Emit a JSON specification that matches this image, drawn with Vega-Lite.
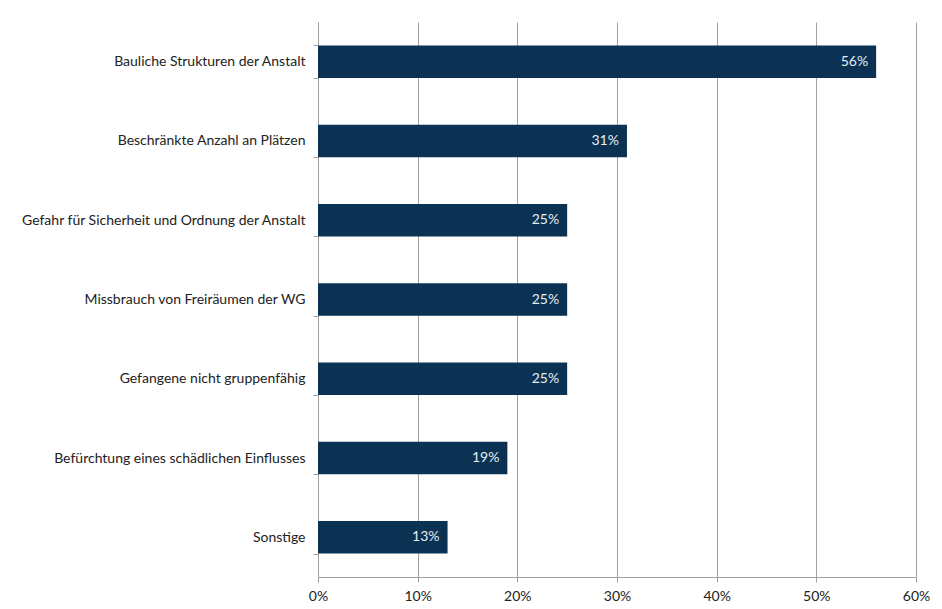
{
  "$schema": "https://vega.github.io/schema/vega-lite/v6.json",
  "width": 598,
  "height": 555,
  "autosize": {"type": "none"},
  "padding": {"left": 318, "top": 22, "right": 26, "bottom": 32},
  "background": "white",
  "config": {
    "view": {"stroke": null},
    "font": "Lato",
    "axis": {"labelFont": "Lato", "labelFontSize": 14, "labelColor": "#222222"}
  },
  "data": {
    "values": [
      {"kategorie": "Bauliche Strukturen der Anstalt", "anteil": 0.56, "label": "56%"},
      {"kategorie": "Beschränkte Anzahl an Plätzen", "anteil": 0.31, "label": "31%"},
      {"kategorie": "Gefahr für Sicherheit und Ordnung der Anstalt", "anteil": 0.25, "label": "25%"},
      {"kategorie": "Missbrauch von Freiräumen der WG", "anteil": 0.25, "label": "25%"},
      {"kategorie": "Gefangene nicht gruppenfähig", "anteil": 0.25, "label": "25%"},
      {"kategorie": "Befürchtung eines schädlichen Einflusses", "anteil": 0.19, "label": "19%"},
      {"kategorie": "Sonstige", "anteil": 0.13, "label": "13%"}
    ]
  },
  "encoding": {
    "y": {
      "field": "kategorie",
      "type": "nominal",
      "sort": null,
      "title": null,
      "scale": {"paddingInner": 0.59, "paddingOuter": 0.295},
      "axis": {
        "domainColor": "#a0a0a0",
        "tickColor": "#a0a0a0",
        "tickBand": "extent",
        "tickSize": 5,
        "labelPadding": 8,
        "labelLimit": 320
      }
    },
    "x": {
      "field": "anteil",
      "type": "quantitative",
      "title": null,
      "scale": {"domain": [0, 0.6], "nice": false},
      "axis": {
        "format": ".0%",
        "values": [0, 0.1, 0.2, 0.3, 0.4, 0.5, 0.6],
        "gridColor": "#a0a0a0",
        "gridOpacity": 1,
        "domainColor": "#a0a0a0",
        "tickColor": "#a0a0a0",
        "tickSize": 5,
        "labelPadding": 7,
        "labelFlush": false
      }
    }
  },
  "layer": [
    {"mark": {"type": "bar", "color": "#0b3253"}},
    {
      "mark": {"type": "text", "align": "right", "dx": -8, "color": "#e4edf4", "font": "Lato", "fontSize": 14},
      "encoding": {"text": {"field": "label"}}
    }
  ]
}
